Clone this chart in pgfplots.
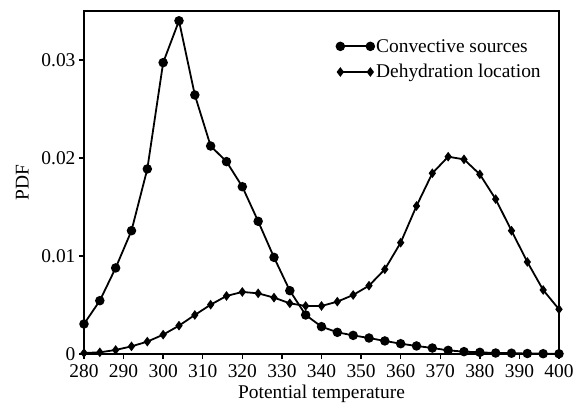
\documentclass[border=0pt]{standalone}
\usepackage{pgfplots}
\pgfplotsset{compat=1.18}
\usepackage{fontspec}
\setmainfont{Liberation Serif}
\begin{document}
\begin{tikzpicture}
\begin{axis}[
  scale only axis,
  width=475bp, height=343bp,
  xmin=280, xmax=400, ymin=0, ymax=0.035,
  xtick={280,290,...,400},
  ytick={0,0.01,0.02,0.03},
  yticklabels={0,0.01,0.02,0.03},
  scaled y ticks=false,
  tick align=outside,
  tick pos=left,
  major tick length=5bp,
  axis line style={line width=1.4bp},
  tick style={line width=1.4bp, black},
  /pgf/number format/assume math mode=true,
  tick label style={font=\fontsize{19.5}{22}\selectfont},
  xticklabel style={yshift=-2bp},
  label style={font=\fontsize{19.5}{22}\selectfont},
  xlabel={Potential temperature},
  ylabel={PDF},
  xlabel style={yshift=-1bp},
  ylabel style={yshift=6bp},
  legend style={draw=none, fill=none, at={(0.525,0.93)}, anchor=north west,
    font=\fontsize{19.5}{22}\selectfont, row sep=7bp},
  legend cell align=left,
  legend image code/.code={\draw[#1] plot coordinates {(0bp,0bp) (30bp,0bp)};},
]
\addplot[black, line width=1.8bp, mark=*, mark size=3.8bp] coordinates {
(280,0.00306) (284,0.00544) (288,0.00878) (292,0.01258) (296,0.01888)
(300,0.02973) (304,0.0340) (308,0.02643) (312,0.02122) (316,0.01963)
(320,0.01707) (324,0.01354) (328,0.00986) (332,0.00646) (336,0.00398)
(340,0.00279) (344,0.00221) (348,0.0019) (352,0.00163) (356,0.00133)
(360,0.00105) (364,0.00082) (368,0.00061) (372,0.00037) (376,0.00024)
(380,0.00017) (384,0.0001) (388,0.00008) (392,0.00005) (396,0.00003)
(400,0.00002)
};
\addlegendentry{Convective sources}
\addplot[black, line width=1.8bp, mark=diamond*, mark size=3.4bp] coordinates {
(280,0.0001) (284,0.00017) (288,0.00041) (292,0.00078) (296,0.00126)
(300,0.00197) (304,0.00289) (308,0.00398) (312,0.00503) (316,0.00592)
(320,0.00633) (324,0.00619) (328,0.00575) (332,0.00517) (336,0.0049)
(340,0.0049) (344,0.00534) (348,0.00602) (352,0.00697) (356,0.00864)
(360,0.01136) (364,0.0151) (368,0.01844) (372,0.02013) (376,0.01986)
(380,0.01833) (384,0.0158) (388,0.01258) (392,0.00939) (396,0.00653)
(400,0.00456)
};
\addlegendentry{Dehydration location}
\coordinate (bl) at (rel axis cs:-0.1768,-0.1429);
\coordinate (tr) at (rel axis cs:1.04,1.032);
\end{axis}
\pgfresetboundingbox
\path (bl) rectangle (tr);
\end{tikzpicture}
\end{document}
